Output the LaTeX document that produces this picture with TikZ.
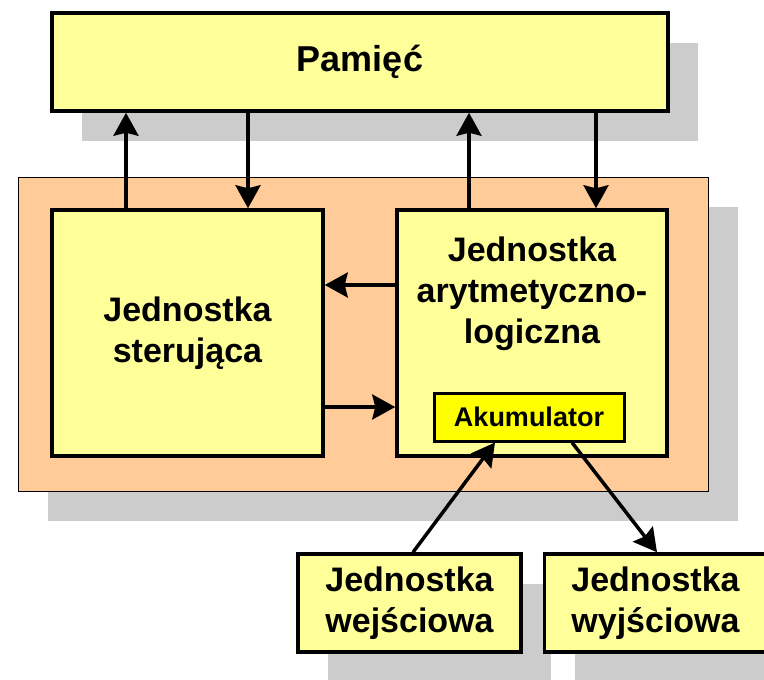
\documentclass[tikz,border=0pt]{standalone}
\usepackage{fontspec}
\setmainfont{Liberation Sans}
\usetikzlibrary{positioning,shadows,arrows.meta}
\definecolor{unitfill}{HTML}{FFFF99}
\definecolor{cpufill}{HTML}{FFCC99}
\definecolor{shadowfill}{HTML}{CCCCCC}
\definecolor{accfill}{HTML}{FFFF00}
\def\dx{20pt}
\tikzstyle{castshadow}=[drop shadow={shadow xshift=30pt,shadow yshift=-30pt,fill=shadowfill,opacity=1}]
\tikzstyle{unit}=[draw,line width=3.5pt,fill=unitfill,align=center,inner sep=0pt,
  font=\fontsize{34}{41}\selectfont\bfseries]
\tikzstyle{unittext}=[align=center,inner sep=0pt,font=\fontsize{34}{41}\selectfont\bfseries]
\newcommand{\newUnit}[4]{\node[unit,#3](#1)[#4]{#2};}
\newcommand{\newLink}[3]{\draw[->,#3] (#1) -- (#2);}

\begin{document}
\begin{tikzpicture}[x=1pt,y=-1pt,node distance=\dx,
      >={Stealth[length=23pt,width=25pt,inset=3pt]},
      line width=3.5pt
      ]
      \useasboundingbox (0,0) rectangle (764,680);
      % procesor
      \node[draw,line width=0.8pt,fill=cpufill,castshadow,minimum width=690pt,minimum height=314pt] (cpu) at (363,334) {};
      \newUnit{pam}{Pamięć}{castshadow,minimum width=616pt,minimum height=98pt,font=\fontsize{36}{42}\selectfont\bfseries}{at={(360,62)}}
      \newUnit{ster}{Jednostka\\sterująca}{minimum width=271pt,minimum height=246pt}{at={(187.5,333)}}
      \newUnit{alu}{}{minimum width=270pt,minimum height=246pt}{at={(532,333)}}
      \node[unittext] (alutxt) at (532,294) {Jednostka\\arytmetyczno-\\logiczna};
      \newUnit{acc}{Akumulator}{fill=accfill,line width=3pt,minimum width=190pt,minimum height=48pt,font=\fontsize{27}{30}\selectfont\bfseries}{at={(529,417)}}
      % wejscie / wyjscie
      \newUnit{wej}{Jednostka\\wejściowa}{castshadow,minimum width=223pt,minimum height=98pt}{at={(409.5,603)}}
      \newUnit{wyj}{}{castshadow,minimum width=236pt,minimum height=98pt}{right=of wej}
      \node[unittext] (wyjtxt) at ([xshift=-7pt]wyj.center) {Jednostka\\wyjściowa};
      % polaczenia
      \newLink{ster.north -| 126,0}{pam.south -| 126,0}{}
      \newLink{pam.south -| 248,0}{ster.north -| 248,0}{}
      \newLink{alu.north -| 469,0}{pam.south -| 469,0}{}
      \newLink{pam.south -| 596,0}{alu.north -| 596,0}{}
      \newLink{alu.west |- 0,285}{ster.east |- 0,285}{}
      \newLink{ster.east |- 0,407}{alu.west |- 0,407}{}
      \newLink{wej.north -| 413,0}{acc.south -| 495,0}{}
      \newLink{acc.south -| 572,0}{wyj.north -| 657,0}{}
    \end{tikzpicture}
\end{document}
